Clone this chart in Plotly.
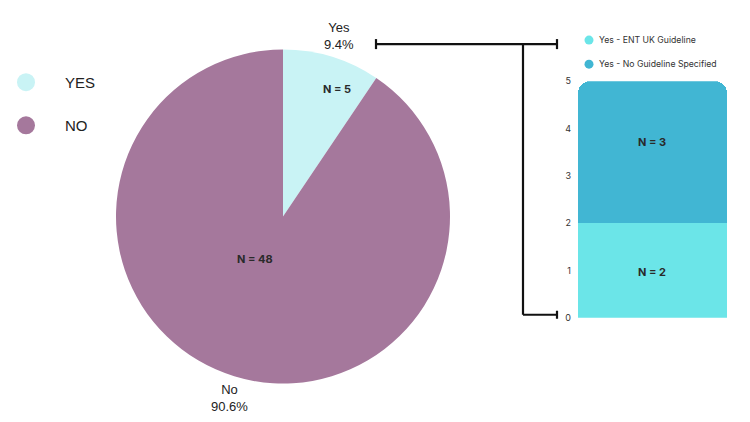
import plotly.graph_objects as go

# ---- data ----
pie_labels = ["Yes", "No"]
pie_values = [5, 48]
pie_colors = ["#C9F3F5", "#A5789C"]

bar_category = ["Yes"]
bar_series = ["Yes - ENT UK Guideline", "Yes - No Guideline Specified"]
bar_values = [2, 3]
bar_colors = ["#6BE5E8", "#41B6D3"]
y_ticks = [0, 1, 2, 3, 4, 5]

total = sum(pie_values)

W = 750
TOP_OFF, EFF_H = 6, 410  # measured plot-area mapping in the rendered page


def px(x):
    return x / W


def py(y):
    return 1 - (y - TOP_OFF) / EFF_H


fig = go.Figure()

fig.add_trace(go.Pie(
    labels=pie_labels, values=pie_values,
    marker=dict(colors=pie_colors, line=dict(width=0)),
    sort=False, direction="clockwise", rotation=0,
    textinfo="none",
    domain=dict(x=[px(116), px(450)], y=[py(383), py(49)]),
    showlegend=False, hoverinfo="label+value+percent",
))

for name, v, col in zip(bar_series, bar_values, bar_colors):
    fig.add_trace(go.Bar(
        x=bar_category, y=[v], name=name, marker=dict(color=col, line=dict(width=0)),
        showlegend=False, hoverinfo="name+y",
    ))

fig.update_layout(
    width=750, height=422, margin=dict(l=0, r=0, t=0, b=0),
    paper_bgcolor="white", plot_bgcolor="white",
    barmode="stack", bargap=0, barcornerradius=12,
    xaxis=dict(domain=[px(578), px(727)], showticklabels=False, showgrid=False,
               zeroline=False, showline=False, fixedrange=True),
    yaxis=dict(domain=[py(317), py(81)], range=[0, 5], tickvals=y_ticks,
               showgrid=False, zeroline=False, showline=False, ticks="",
               ticklabelstandoff=6,
               tickfont=dict(family="Inter, Liberation Sans", size=9, color="#333")),
    font=dict(family="Liberation Sans"),
)

NFONT = dict(family="Inter, Liberation Sans", size=11, color="#2a2a2a")


def ann(x, y, text, font, xanchor="center"):
    fig.add_annotation(x=px(x), y=py(y), xref="paper", yref="paper", text=text,
                       showarrow=False, xanchor=xanchor, yanchor="middle", font=font)


# pie labels
pct = [v / total * 100 for v in pie_values]
LFONT = dict(family="Liberation Sans", size=13, color="#222")
ann(339, 36, f"{pie_labels[0]}<br>{pct[0]:.1f}%", LFONT)
ann(229, 397, f"{pie_labels[1]}<br>{pct[1]:.1f}%", LFONT)
ann(337, 89, f"<b>N = {pie_values[0]}</b>", NFONT)
ann(255, 258, f"<b>N = {pie_values[1]}</b>", NFONT)

# bar labels
ann(652, 271, f"<b>N = {bar_values[0]}</b>", NFONT)
ann(652, 142, f"<b>N = {bar_values[1]}</b>", NFONT)

# left legend
for i, (lab, col) in enumerate(zip(pie_labels, pie_colors)):
    cy = 82 + i * 43
    fig.add_shape(type="circle", xref="paper", yref="paper",
                  x0=px(26 - 9), x1=px(26 + 9), y0=py(cy + 9), y1=py(cy - 9),
                  fillcolor=col, line=dict(width=0))
    ann(63, cy, lab.upper(), dict(family="Liberation Sans", size=15, color="#222"), xanchor="left")

# bar legend
for i, (lab, col) in enumerate(zip(bar_series, bar_colors)):
    cy = 40 + i * 24
    fig.add_shape(type="circle", xref="paper", yref="paper",
                  x0=px(589 - 4.5), x1=px(589 + 4.5), y0=py(cy + 4.5), y1=py(cy - 4.5),
                  fillcolor=col, line=dict(width=0))
    ann(597, cy, lab, dict(family="Inter, Liberation Sans", size=8.7, color="#333"), xanchor="left")


# connector bracket
def seg(x0, y0, x1, y1, w=2.2):
    fig.add_shape(type="line", xref="paper", yref="paper",
                  x0=px(x0), x1=px(x1), y0=py(y0), y1=py(y1),
                  line=dict(color="#111", width=w))


seg(376, 44, 557, 44)
seg(376, 39, 376, 49)
seg(557, 39, 557, 49)
seg(523, 44, 523, 314)
seg(523, 314, 557, 314)
seg(557, 310, 557, 318)

fig.write_html("out.html")
